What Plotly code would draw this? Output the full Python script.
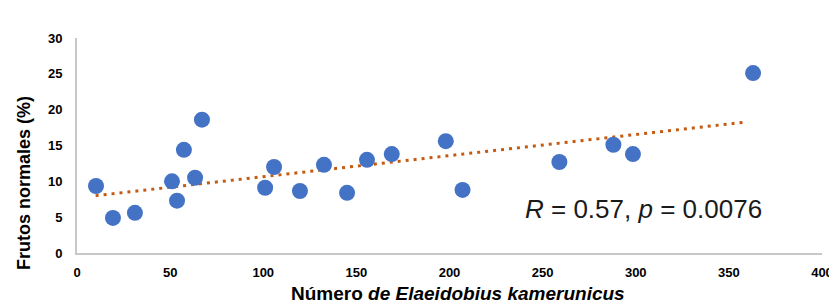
import plotly.graph_objects as go

# Data
numero_elaeidobius = [10.2, 19.3, 31.1, 51.0, 53.7, 57.4, 63.4, 67.1, 101.0, 105.8,
                      119.7, 132.6, 145.0, 155.7, 169.0, 198.0, 207.0, 259.0, 288.0,
                      298.5, 363.0]
frutos_normales = [9.35, 4.9, 5.6, 10.0, 7.3, 14.4, 10.5, 18.6, 9.1, 12.0,
                   8.65, 12.3, 8.4, 13.0, 13.8, 15.6, 8.8, 12.7, 15.1,
                   13.8, 25.1]
trend_x = [10.0, 360.0]
trend_y = [8.0, 18.3]
x_ticks = [0, 50, 100, 150, 200, 250, 300, 350, 400]
y_ticks = [0, 5, 10, 15, 20, 25, 30]

FONT = "Liberation Sans, Arial, sans-serif"
OFF = 8  # page body margin offset
W, H = 837 - OFF, 304 - OFF
L, R, T, B = 77 - OFF, 15, 38 - OFF, 51
PW, PH = W - L - R, H - T - B


def px(xp):  # page pixel -> paper
    return (xp - OFF - L) / PW


def py(yp):
    return 1 - (yp - OFF - T) / PH


fig = go.Figure()
fig.add_trace(go.Scatter(
    x=trend_x, y=trend_y, mode="lines",
    line=dict(color="#C55A11", width=3, dash="3px,5px"),
    hoverinfo="skip", showlegend=False,
))
fig.add_trace(go.Scatter(
    x=numero_elaeidobius, y=frutos_normales, mode="markers",
    marker=dict(color="#4472C4", size=16, line=dict(width=0)),
    showlegend=False,
))

fig.add_annotation(
    x=px(643), y=py(209), xref="paper", yref="paper",
    text="<i>R</i> = 0.57, <i>p</i> = 0.0076",
    showarrow=False, font=dict(family=FONT, size=26, color="#1a1a1a"),
    xanchor="center", yanchor="middle",
)
fig.add_annotation(
    x=px(458), y=py(293), xref="paper", yref="paper",
    text="<b>Número <i>de Elaeidobius kamerunicus</i></b>",
    showarrow=False, font=dict(family=FONT, size=19, color="#000000"),
    xanchor="center", yanchor="middle",
)
fig.add_annotation(
    x=px(24), y=py(183), xref="paper", yref="paper",
    text="<b>Frutos normales (%)</b>", textangle=-90,
    showarrow=False, font=dict(family=FONT, size=18, color="#000000"),
    xanchor="center", yanchor="middle",
)

fig.update_layout(
    width=W, height=H,
    margin=dict(l=L, r=R, t=T, b=B, autoexpand=False),
    plot_bgcolor="white", paper_bgcolor="white",
    font=dict(family=FONT, color="#000000"),
    xaxis=dict(
        range=[0, 400], tickvals=x_ticks, showgrid=False, zeroline=False,
        showline=True, linecolor="#C8C8C8", linewidth=2, automargin=False,
        ticks="outside", ticklen=6, tickcolor="rgba(0,0,0,0)",
        tickfont=dict(size=13, family=FONT, color="#000000", weight="bold"),
    ),
    yaxis=dict(
        range=[0, 30], tickvals=y_ticks, showgrid=False, zeroline=False,
        showline=True, linecolor="#C8C8C8", linewidth=2, automargin=False,
        ticks="outside", ticklen=10, tickcolor="rgba(0,0,0,0)",
        tickfont=dict(size=13, family=FONT, color="#000000", weight="bold"),
    ),
)

fig.write_html("out.html")
